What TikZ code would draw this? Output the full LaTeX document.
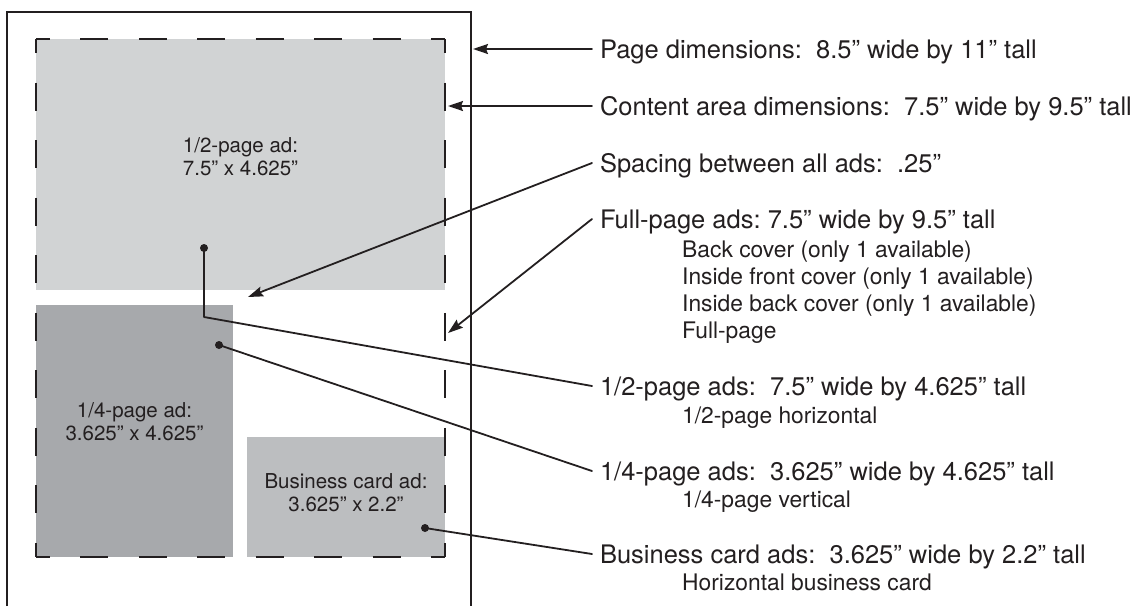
\documentclass[tikz,border=0pt]{standalone}
\usepackage{fontspec}
\setmainfont{TeX Gyre Heros}
\usetikzlibrary{arrows.meta}
\definecolor{inkdark}{HTML}{231F20}
\definecolor{halfgray}{HTML}{D1D3D4}
\definecolor{quartergray}{HTML}{A7A9AC}
\definecolor{cardgray}{HTML}{BCBEC0}

\begin{document}
\frenchspacing
\begin{tikzpicture}[x=1pt, y=-1pt, >={Stealth[length=15pt, width=10pt, inset=2pt]},
	line cap=round, line join=round, color=inkdark,
	lbl/.style={anchor=base west, inner sep=0pt, outer xsep=8pt, text height=18pt, text depth=0pt,
		font=\fontsize{25.5}{30}\selectfont},
	sublbl/.style={anchor=base west, inner sep=0pt, font=\fontsize{22.8}{27}\selectfont},
	adtext/.style={anchor=north, inner sep=0pt, align=center, font=\fontsize{20.5}{23}\selectfont},
	pointer/.style={line width=1.8pt},
	dashside/.style={line width=2.2pt, line cap=butt, dash phase=14pt},
	dot/.style={circle, fill=inkdark, inner sep=0pt, minimum size=8pt}]
\useasboundingbox (0,0) rectangle (1137,606);
%========================
% Left: the page
%========================
% ad blocks
\fill[halfgray] (36,39) rectangle (445,290);
\fill[quartergray] (36,305) rectangle (233,557);
\fill[cardgray] (247,437) rectangle (445,557);

% content area (dashes aligned to the corners)
\coordinate (cNW) at (36,39);
\coordinate (cNE) at (445,39);
\coordinate (cSW) at (36,557);
\coordinate (cSE) at (445,557);
\draw[dashside, dash pattern=on 28pt off 30.43pt] (cNW) -- (cNE);
\draw[dashside, dash pattern=on 28pt off 30.43pt] (cSW) -- (cSE);
\draw[dashside, dash pattern=on 28pt off 29.56pt] (cNW) -- (cSW);
\draw[dashside, dash pattern=on 28pt off 29.56pt] (cNE) -- (cSE);

% page edge (runs off the bottom)
\draw[line width=1.8pt, line cap=butt, line join=miter] (7,606) -- (7,12) -- (471,12) -- (471,606);

% ad labels
\node[adtext] (halfad) at (240.5,137) {1/2-page ad:\\7.5” x 4.625”};
\node[adtext] (quarterad) at (134.5,402) {1/4-page ad:\\3.625” x 4.625”};
\node[adtext] (cardad) at (346,473) {Business card ad:\\3.625” x 2.2”};

% dots on the ads
\node[dot] (halfdot) at (204,248) {};
\node[dot] (quarterdot) at (219,345) {};
\node[dot] (carddot) at (425,528) {};

% arrow targets
\coordinate (pageedge) at (473,49);
\coordinate (contentedge) at (448,106);
\coordinate (gap) at (248,297);
\coordinate (fulledge) at (448,333);
\coordinate (halfbend) at (204,317);

%========================
% Right: the notes
%========================
\node[lbl] (pagelbl) at (592,58) {Page dimensions:\ \ 8.5” wide by 11” tall};
\node[lbl] (contentlbl) at (592,115) {Content area dimensions:\ \ 7.5” wide by 9.5” tall};
\node[lbl] (spacelbl) at (592,172) {Spacing between all ads:\ \ .25”};
\node[lbl] (fulllbl) at (592,228) {Full-page ads: 7.5” wide by 9.5” tall};
\node[sublbl] (fullone) at (682,257) {Back cover (only 1 available)};
\node[sublbl] (fulltwo) at (682,284) {Inside front cover (only 1 available)};
\node[sublbl] (fullthree) at (682,311) {Inside back cover (only 1 available)};
\node[sublbl] (fullfour) at (682,338) {Full-page};
\node[lbl] (halflbl) at (592,395) {1/2-page ads:\ \ 7.5” wide by 4.625” tall};
\node[sublbl] (halfsub) at (682,423) {1/2-page horizontal};
\node[lbl] (quarterlbl) at (592,480) {1/4-page ads:\ \ 3.625” wide by 4.625” tall};
\node[sublbl] (quartersub) at (682,507) {1/4-page vertical};
\node[lbl] (cardlbl) at (592,563) {Business card ads:\ \ 3.625” wide by 2.2” tall};
\node[sublbl] (cardsub) at (682,590) {Horizontal business card};

% connectors
\draw[pointer,->] (pagelbl.west) -- (pageedge);
\draw[pointer,->] (contentlbl.west) -- (contentedge);
\draw[pointer,->] (spacelbl.west) -- (gap);
\draw[pointer,->] (fulllbl.west) -- (fulledge);
\draw[pointer] (halfdot.center) -- (halfbend) -- (halflbl.west);
\draw[pointer] (quarterdot.center) -- (quarterlbl.west);
\draw[pointer] (carddot.center) -- (cardlbl.west);
\end{tikzpicture}
\end{document}
